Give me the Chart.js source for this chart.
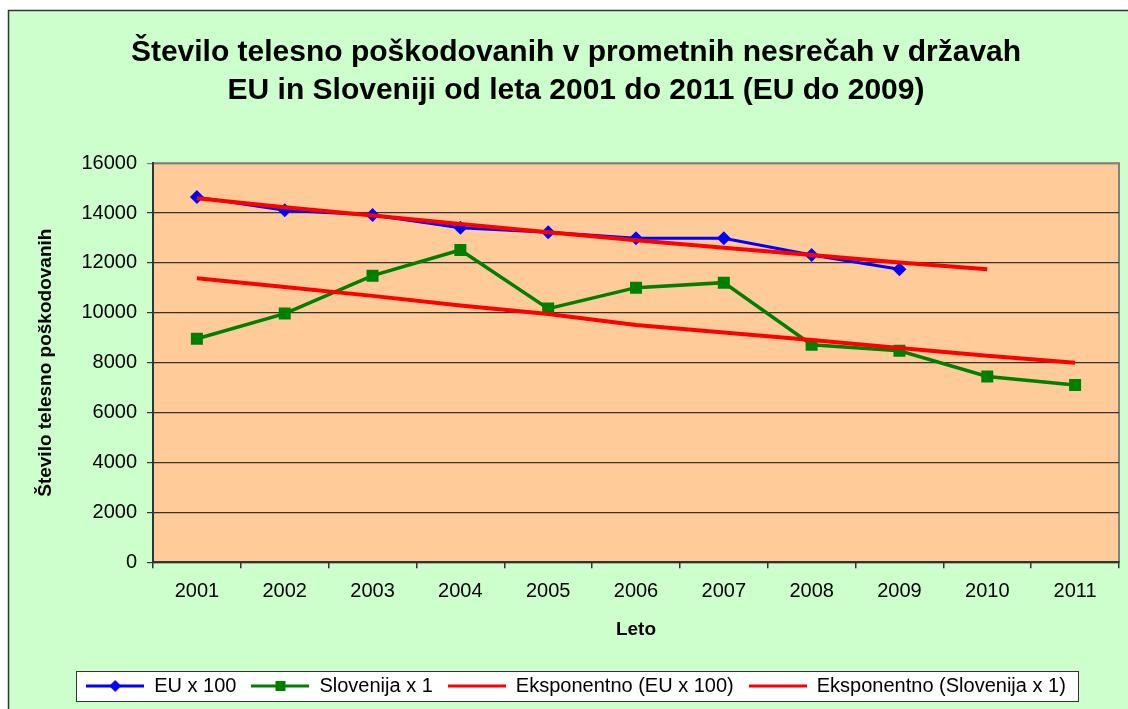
<!DOCTYPE html>
<html>
<head>
<meta charset="utf-8">
<script src="https://cdn.jsdelivr.net/npm/chart.js@4.4.0/dist/chart.umd.min.js"></script>
<style>
html,body{margin:0;padding:0;background:#fff;}
#wrap{position:relative;width:1128px;height:709px;}
</style>
</head>
<body>
<div id="wrap"><canvas id="c" width="1128" height="709"></canvas></div>
<script>
const years = ['2001','2002','2003','2004','2005','2006','2007','2008','2009','2010','2011'];
const euX100 = [14640, 14110, 13920, 13410, 13230, 12990, 12990, 12320, 11750, null, null];
const slovenija = [8960, 9970, 11490, 12520, 10170, 11010, 11210, 8720, 8480, 7450, 7110];
const trendEU = [14590, 14230, 13900, 13560, 13230, 12910, 12610, 12320, 12020, 11750, null];
const trendSlo = [11390, 11040, 10680, 10290, 9950, 9510, 9210, 8910, 8590, 8280, 8000];
const seriesNames = ['EU x 100', 'Slovenija x 1', 'Eksponentno (EU x 100)', 'Eksponentno (Slovenija x 1)'];
const yTicks = [0, 2000, 4000, 6000, 8000, 10000, 12000, 14000, 16000];
const titleLines = ['Število telesno poškodovanih v prometnih nesrečah v državah', 'EU in Sloveniji od leta 2001 do 2011 (EU do 2009)'];
const yTitle = 'Število telesno poškodovanih';
const xTitle = 'Leto';

const FONT = "'Liberation Sans', Arial, sans-serif";

function legendIcon(color, marker) {
  const c = document.createElement('canvas');
  c.width = 58; c.height = 14;
  const g = c.getContext('2d');
  g.strokeStyle = color; g.lineWidth = 3;
  g.beginPath(); g.moveTo(0, 7); g.lineTo(58, 7); g.stroke();
  g.fillStyle = color;
  if (marker === 'diamond') {
    g.beginPath(); g.moveTo(29, 1); g.lineTo(35, 7); g.lineTo(29, 13); g.lineTo(23, 7); g.closePath(); g.fill();
  } else if (marker === 'square') {
    g.fillRect(24, 2, 10, 10);
  }
  return c;
}
const icons = [legendIcon('#0000FF','diamond'), legendIcon('#008000','square'), legendIcon('#FF0000'), legendIcon('#FF0000')];

const bgPlugin = {
  id: 'bg',
  beforeDraw(chart) {
    const ctx = chart.ctx, a = chart.chartArea;
    ctx.save();
    ctx.fillStyle = '#ffffff';
    ctx.fillRect(0, 0, chart.width, chart.height);
    ctx.fillStyle = '#CCFFCC';
    ctx.fillRect(8, 10, chart.width - 8, chart.height - 10);
    ctx.strokeStyle = '#333333';
    ctx.lineWidth = 1.5;
    ctx.beginPath();
    ctx.moveTo(8.5, chart.height); ctx.lineTo(8.5, 10.5); ctx.lineTo(chart.width, 10.5);
    ctx.stroke();
    ctx.fillStyle = '#FFCC99';
    ctx.fillRect(a.left, a.top, a.right - a.left, a.bottom - a.top);
    ctx.strokeStyle = '#808080';
    ctx.lineWidth = 2;
    ctx.strokeRect(a.left, a.top, a.right - a.left, a.bottom - a.top);
    const lg = chart.legend;
    if (lg && lg.legendHitBoxes && lg.legendHitBoxes.length) {
      const hb = lg.legendHitBoxes;
      const l = hb[0].left - 10;
      const r = hb[hb.length - 1].left + hb[hb.length - 1].width + 12;
      const t = hb[0].top - 5;
      const h = hb[0].height + 10;
      ctx.fillStyle = '#ffffff';
      ctx.fillRect(l, t, r - l, h);
      ctx.strokeStyle = '#333333';
      ctx.lineWidth = 1;
      ctx.strokeRect(Math.round(l) + 0.5, Math.round(t) + 0.5, Math.round(r - l), Math.round(h));
    }
    ctx.restore();
  }
};

new Chart(document.getElementById('c'), {
  type: 'line',
  data: {
    labels: years,
    datasets: [
      { label: seriesNames[0], data: euX100, borderColor: '#0000FF', backgroundColor: '#0000FF', borderWidth: 3,
        pointStyle: 'rectRot', pointRadius: 7, pointHoverRadius: 7, pointBorderWidth: 0, order: 2 },
      { label: seriesNames[1], data: slovenija, borderColor: '#008000', backgroundColor: '#008000', borderWidth: 3.5,
        pointStyle: 'rect', pointRadius: 8.5, pointHoverRadius: 8.5, pointBorderWidth: 0, order: 3 },
      { label: seriesNames[2], data: trendEU, borderColor: '#FF0000', backgroundColor: '#FF0000', borderWidth: 4,
        pointRadius: 0, order: 1 },
      { label: seriesNames[3], data: trendSlo, borderColor: '#FF0000', backgroundColor: '#FF0000', borderWidth: 4,
        pointRadius: 0, order: 1 }
    ]
  },
  options: {
    responsive: false,
    animation: false,
    spanGaps: false,
    layout: { padding: { left: 33, right: 9, top: 34, bottom: 3 } },
    plugins: {
      tooltip: { enabled: false },
      title: {
        display: true,
        text: titleLines,
        color: '#000',
        font: { family: FONT, size: 30, weight: 'bold', lineHeight: 1.27 },
        padding: { top: 0, bottom: 53 }
      },
      legend: {
        display: true,
        position: 'bottom',
        labels: {
          color: '#000',
          font: { family: FONT, size: 20 },
          usePointStyle: true,
          pointStyleWidth: 58,
          boxHeight: 14,
          padding: 15,
          sort: (a, b) => a.datasetIndex - b.datasetIndex,
          generateLabels(chart) {
            const items = Chart.defaults.plugins.legend.labels.generateLabels(chart);
            items.forEach((it) => { it.pointStyle = icons[it.datasetIndex]; });
            return items;
          }
        }
      }
    },
    scales: {
      x: {
        offset: true,
        grid: { offset: true, drawOnChartArea: false, drawTicks: true, tickLength: 6, color: '#333', lineWidth: 1.5 },
        border: { display: true, color: '#333', width: 1.5 },
        ticks: { color: '#000', font: { family: FONT, size: 20 }, padding: 11, maxRotation: 0, autoSkip: false },
        title: { display: true, text: xTitle, color: '#000', font: { family: FONT, size: 19, weight: 'bold' }, padding: { top: 4, bottom: 20 } }
      },
      y: {
        min: 0, max: 16000,
        afterBuildTicks(scale) { scale.ticks = yTicks.map(v => ({ value: v })); },
        afterFit(scale) { scale.width = 120; },
        grid: { drawTicks: true, tickLength: 6, color: (c) => c.tick && c.tick.value === 16000 ? '#808080' : '#333', lineWidth: 1.2 },
        border: { display: true, color: '#333', width: 2 },
        ticks: { color: '#000', font: { family: FONT, size: 20 }, padding: 10, callback: (v) => String(v) },
        title: { display: true, text: yTitle, color: '#000', font: { family: FONT, size: 19, weight: 'bold' }, padding: { top: 1, bottom: 4 } }
      }
    }
  },
  plugins: [bgPlugin]
});
</script>
</body>
</html>
